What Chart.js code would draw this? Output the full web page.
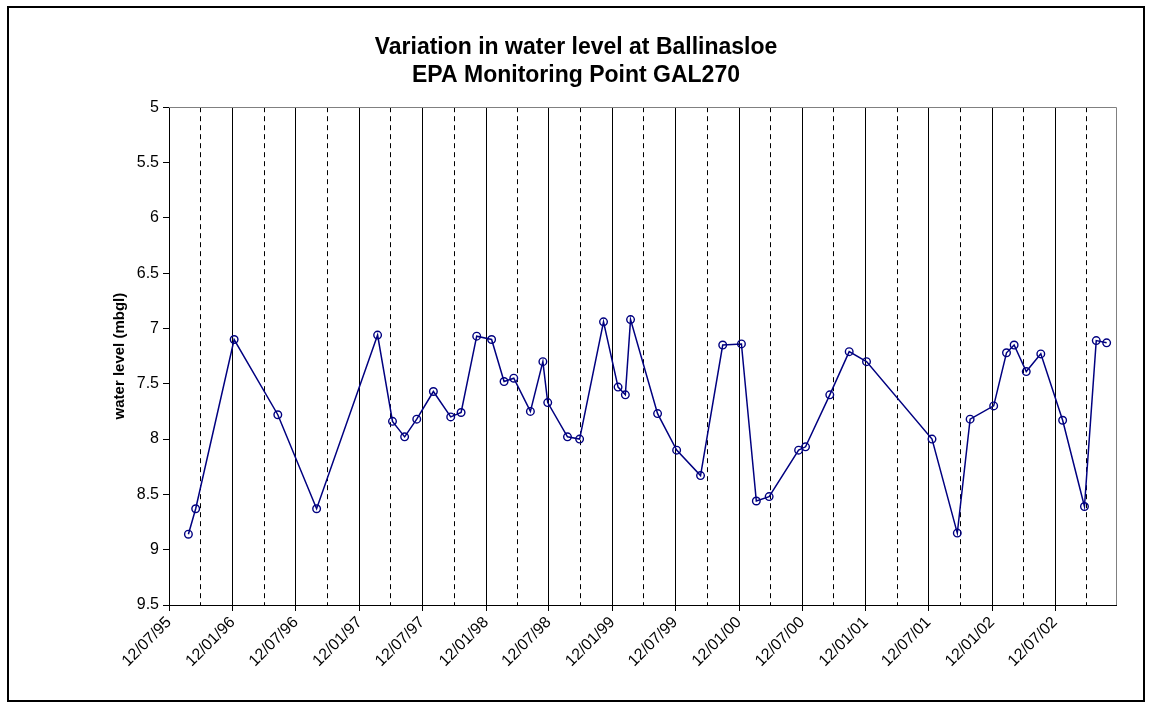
<!DOCTYPE html>
<html>
<head>
<meta charset="utf-8">
<title>Variation in water level at Ballinasloe</title>
<script src="https://cdn.jsdelivr.net/npm/chart.js@4.4.0/dist/chart.umd.min.js"></script>
<style>
    html, body { margin: 0; padding: 0; background: #fff; }
    #wrap { position: relative; width: 1152px; height: 709px; }
</style>
</head>
<body>
<div id="wrap"><canvas id="chart" width="1152" height="709"></canvas></div>
<script>
// sampling dates (dd/mm/yy) and water level below ground (m)
const sampleDates = ['06/09/95','27/09/95','16/01/96','21/05/96','10/09/96',
    '05/03/97','17/04/97','22/05/97','26/06/97','13/08/97',
    '02/10/97','01/11/97','16/12/97','28/01/98','05/03/98',
    '02/04/98','20/05/98','25/06/98','09/07/98','04/09/98',
    '09/10/98','17/12/98','28/01/99','18/02/99','05/03/99',
    '22/05/99','16/07/99','23/09/99','26/11/99','19/01/00',
    '02/03/00','08/04/00','02/07/00','22/07/00','30/09/00',
    '25/11/00','14/01/01','22/07/01','03/10/01','09/11/01',
    '16/01/02','22/02/02','16/03/02','20/04/02','01/06/02',
    '03/08/02','05/10/02','08/11/02','08/12/02'];
const waterLevel = [8.86, 8.63, 7.10, 7.78, 8.63,
    7.06, 7.84, 7.98, 7.82, 7.57,
    7.80, 7.76, 7.07, 7.10, 7.48,
    7.45, 7.75, 7.30, 7.67, 7.98,
    8.00, 6.94, 7.53, 7.60, 6.92,
    7.77, 8.10, 8.33, 7.15, 7.14,
    8.56, 8.52, 8.10, 8.07, 7.60,
    7.21, 7.30, 8.00, 8.85, 7.82,
    7.70, 7.22, 7.15, 7.39, 7.23,
    7.83, 8.61, 7.11, 7.13];

// axis range and tick labels
const xStart = '12/07/95';
const xEnd = '04/01/03';
const majorTicks = ['12/07/95','12/01/96','12/07/96','12/01/97','12/07/97','12/01/98','12/07/98','12/01/99',
    '12/07/99','12/01/00','12/07/00','12/01/01','12/07/01','12/01/02','12/07/02'];
const minorTicks = ['12/10/95','12/04/96','12/10/96','12/04/97','12/10/97','12/04/98','12/10/98','12/04/99',
    '12/10/99','12/04/00','12/10/00','12/04/01','12/10/01','12/04/02','12/10/02'];
const yTicks = [5, 5.5, 6, 6.5, 7, 7.5, 8, 8.5, 9, 9.5];

// dd/mm/yy -> day number
function toDay(s) {
    const p = s.split('/').map(Number);
    const yr = p[2] < 50 ? 2000 + p[2] : 1900 + p[2];
    return Math.round(Date.UTC(yr, p[1] - 1, p[0]) / 864e5);
}
function pad2(n) { return (n < 10 ? '0' : '') + n; }
function fmtDay(d) {
    const dt = new Date(d * 864e5);
    return pad2(dt.getUTCDate()) + '/' + pad2(dt.getUTCMonth() + 1) + '/' + pad2(dt.getUTCFullYear() % 100);
}

const points = sampleDates.map((d, i) => ({ x: toDay(d), y: waterLevel[i] }));

Chart.defaults.font.family = 'Arial, "Liberation Sans", sans-serif';
Chart.defaults.color = '#000';

// chart frame and plot-area border (top / right)
const framePlugin = {
    id: 'frame',
    afterDraw(chart) {
        const { ctx, chartArea: a } = chart;
        ctx.save();
        ctx.strokeStyle = '#808080';
        ctx.lineWidth = 1;
        ctx.beginPath();
        ctx.moveTo(a.left, Math.round(a.top) + 0.5);
        ctx.lineTo(Math.round(a.right) + 0.5, Math.round(a.top) + 0.5);
        ctx.lineTo(Math.round(a.right) + 0.5, a.bottom);
        ctx.stroke();
        ctx.strokeStyle = '#000';
        ctx.lineWidth = 2;
        ctx.strokeRect(8, 7, 1136, 694);
        ctx.restore();
    }
};

new Chart(document.getElementById('chart'), {
    type: 'line',
    data: {
        datasets: [{
            data: points,
            borderColor: '#000080',
            borderWidth: 1.5,
            tension: 0,
            pointStyle: 'circle',
            pointRadius: 3.8,
            pointBorderWidth: 1.4,
            pointBorderColor: '#000080',
            pointBackgroundColor: 'rgba(0,0,0,0)',
            xAxisID: 'x',
            yAxisID: 'y'
        }]
    },
    options: {
        responsive: false,
        animation: false,
        layout: { padding: { left: 36, right: 36, top: 0, bottom: 0 } },
        plugins: {
            legend: { display: false },
            tooltip: { enabled: false },
            title: {
                display: true,
                text: ['Variation in water level at Ballinasloe', 'EPA Monitoring Point GAL270'],
                font: { size: 23, weight: 'bold' },
                lineHeight: 1.2,
                color: '#000',
                padding: { top: 34, bottom: 18 }
            }
        },
        scales: {
            x: {
                type: 'linear',
                position: 'bottom',
                min: toDay(xStart),
                max: toDay(xEnd),
                afterBuildTicks: s => { s.ticks = majorTicks.map(t => ({ value: toDay(t) })); },
                afterFit: s => { s.height = 104; },
                ticks: {
                    autoSkip: false,
                    minRotation: 45,
                    maxRotation: 45,
                    padding: 2,
                    font: { size: 16 },
                    callback: v => fmtDay(v)
                },
                grid: { color: '#000', lineWidth: 1, tickLength: 6, tickColor: '#000' },
                border: { display: true, color: '#000', width: 1 }
            },
            xMinor: {
                type: 'linear',
                position: 'bottom',
                min: toDay(xStart),
                max: toDay(xEnd),
                afterBuildTicks: s => { s.ticks = minorTicks.map(t => ({ value: toDay(t) })); },
                afterFit: s => { s.height = 0; },
                ticks: { display: false },
                grid: { color: '#000', lineWidth: 1, drawTicks: false },
                border: { display: false, dash: [5, 4] }
            },
            y: {
                type: 'linear',
                reverse: true,
                min: 5,
                max: 9.5,
                afterBuildTicks: s => { s.ticks = yTicks.map(v => ({ value: v })); },
                afterFit: s => { s.width = 133; },
                ticks: {
                    padding: 4,
                    font: { size: 16 },
                    callback: v => String(v)
                },
                grid: { drawOnChartArea: false, tickLength: 6, color: '#000' },
                border: { display: true, color: '#000', width: 1 },
                title: {
                    display: true,
                    text: 'water level (mbgl)',
                    font: { size: 15, weight: 'bold' },
                    padding: { top: 75, bottom: 0 }
                }
            }
        }
    },
    plugins: [framePlugin]
});
</script>
</body>
</html>
